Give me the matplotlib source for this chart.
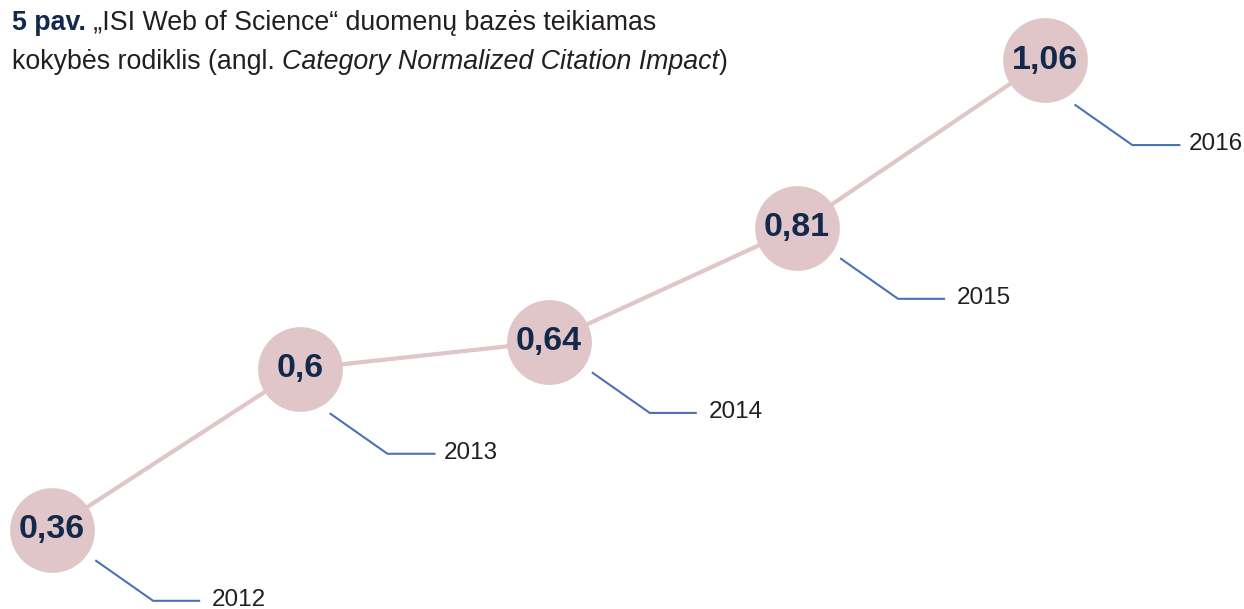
import matplotlib
matplotlib.use("Agg")
import matplotlib.pyplot as plt
import matplotlib.transforms as mtransforms

# duomenys
years = [2012, 2013, 2014, 2015, 2016]
values = [0.36, 0.6, 0.64, 0.81, 1.06]
value_labels = ["0,36", "0,6", "0,64", "0,81", "1,06"]

plt.rcParams['font.family'] = ['Liberation Sans', 'DejaVu Sans']

navy = '#13294b'
pink = '#e0c6c8'
blue = '#4a72b8'
dark = '#231f20'

fig = plt.figure(figsize=(12.44, 6.09), dpi=100)
ax = fig.add_axes([0, 0, 1, 1])
ax.set_xlim(2011.79, 2016.80)
ax.set_ylim(0.242, 1.1495)
ax.axis('off')

# jungianti linija ir apskritimai
ax.plot(years, values, color=pink, lw=3, zorder=1, solid_capstyle='butt')
ax.plot(years, values, 'o', ms=61, color=pink, mec='none', zorder=2)

for x, y, lab in zip(years, values, value_labels):
    ax.text(x, y, lab, ha='center', va='center', fontsize=24.5, fontweight='bold',
            color=navy, zorder=3)

# nuorodų linijos (pikseliais nuo centro)
leader_a = ([44, 101, 147], [-31, -71, -71], 160)
leader_b = ([30, 87, 134], [-45, -85, -85], 143)
leaders = [leader_a, leader_b, leader_a, leader_a, leader_b]

for x, y, yr, (lx, ly, tx) in zip(years, values, years, leaders):
    tr = mtransforms.IdentityTransform() + mtransforms.ScaledTranslation(x, y, ax.transData)
    ax.plot(lx, ly, color=blue, lw=1.5, transform=tr, zorder=1)
    ax.annotate(str(yr), (x, y), xytext=(tx, ly[-1] + 1), textcoords='offset pixels',
                ha='left', va='center', fontsize=17.5, color=dark)

# antraštė
fs = 19.3
t1 = fig.text(12 / 1244, 1 - 30 / 609, "5 pav.", fontsize=fs, fontweight='bold',
              color=navy, va='baseline')
ax.annotate(" \u201eISI Web of Science\u201c duomenų bazės teikiamas", xy=(1, 0),
            xycoords=t1, va='bottom', ha='left', fontsize=fs, color=dark)
t2 = fig.text(12 / 1244, 1 - 69 / 609, "kokybės rodiklis (angl. ", fontsize=fs,
              color=dark, va='baseline')
t3 = ax.annotate("Category Normalized Citation Impact", xy=(1, 0), xycoords=t2,
                 va='bottom', ha='left', fontsize=fs, color=dark, style='italic')
ax.annotate(")", xy=(1, 0), xycoords=t3, va='bottom', ha='left', fontsize=fs, color=dark)

plt.savefig("out.png", dpi=100)
